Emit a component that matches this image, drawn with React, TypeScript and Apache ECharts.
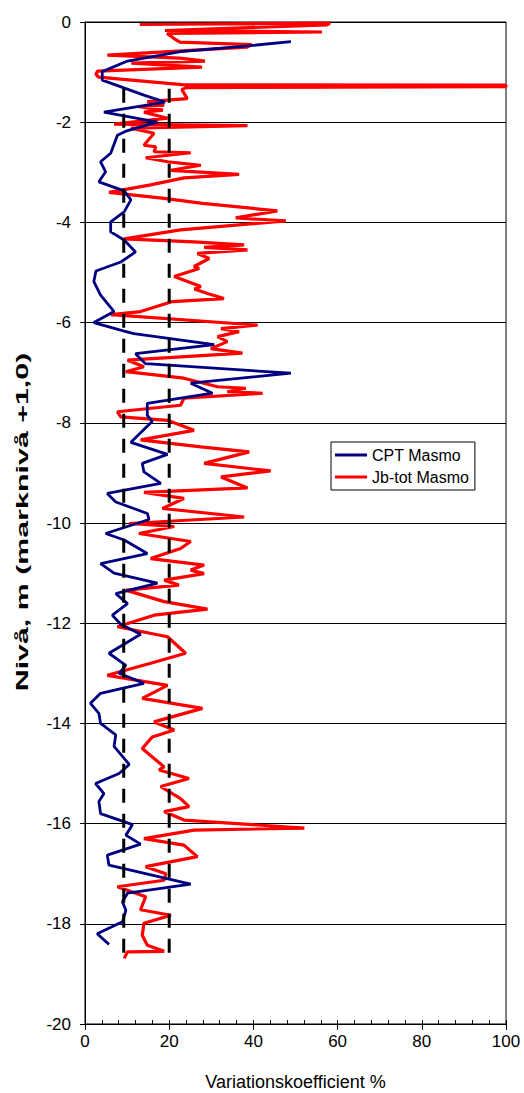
import React, { useEffect, useRef } from "react";
import * as echarts from "echarts";

// [variationskoefficient %, nivå m]
const cptMasmo: [number, number][] = [
  [48.9, -0.39], [39.4, -0.47], [22.7, -0.59], [10.1, -0.78], [4.1, -0.99], [4.1, -1.16],
  [14.0, -1.46], [19.0, -1.6], [4.5, -1.8], [17.2, -2.0], [9.7, -2.18], [7.7, -2.26],
  [6.1, -2.62], [3.7, -2.79], [4.9, -2.99], [3.3, -3.19], [9.3, -3.37], [10.9, -3.55],
  [9.3, -3.79], [6.1, -3.99], [6.1, -4.19], [9.3, -4.35], [12.0, -4.59], [8.5, -4.79],
  [2.6, -4.97], [2.1, -5.18], [3.7, -5.45], [6.9, -5.78], [2.1, -6.0], [9.3, -6.17],
  [11.6, -6.22], [30.7, -6.44], [12.0, -6.62], [14.4, -6.82], [48.9, -7.01], [25.1, -7.21],
  [30.3, -7.41], [14.8, -7.61], [14.8, -7.85], [16.0, -7.97], [10.9, -8.39], [19.6, -8.63],
  [13.6, -8.81], [14.0, -8.98], [18.0, -9.21], [5.3, -9.41], [7.3, -9.58], [9.3, -9.64],
  [14.8, -9.81], [15.2, -9.93], [4.9, -10.21], [9.3, -10.34], [14.8, -10.61], [3.7, -10.81],
  [6.9, -11.0], [17.2, -11.2], [7.3, -11.41], [10.1, -11.61], [6.5, -11.84], [8.5, -12.02],
  [13.2, -12.22], [5.7, -12.6], [9.7, -12.84], [8.1, -13.0], [14.0, -13.2], [3.7, -13.4],
  [1.3, -13.6], [3.3, -13.8], [3.7, -14.0], [7.3, -14.23], [6.9, -14.46], [9.3, -14.7],
  [10.5, -14.82], [8.1, -15.0], [2.5, -15.2], [4.5, -15.4], [3.3, -15.56], [3.7, -15.8],
  [11.3, -16.02], [9.7, -16.23], [13.2, -16.41], [5.3, -16.63], [5.7, -16.83], [25.1, -17.21],
  [10.1, -17.39], [8.9, -17.56], [9.7, -17.73], [8.9, -17.96], [2.9, -18.2], [5.7, -18.41],
];

const jbTotMasmo: [number, number][] = [
  [13.0, -0.05], [58.2, -0.02], [57.5, -0.06], [19.0, -0.17], [56.3, -0.2], [19.5, -0.23],
  [21.0, -0.32], [22.5, -0.4], [39.6, -0.45], [38.5, -0.5], [5.3, -0.66], [22.5, -0.72],
  [28.5, -0.78], [11.0, -0.82], [27.8, -0.9], [3.0, -0.98], [2.6, -1.04], [3.2, -1.1],
  [23.0, -1.25], [100, -1.26], [100, -1.29], [24.0, -1.31], [23.0, -1.35], [24.3, -1.53],
  [14.8, -1.59], [18.8, -1.66], [12.8, -1.69], [18.5, -1.76], [14.0, -1.8], [19.6, -1.92],
  [6.9, -2.04], [38.6, -2.07], [10.9, -2.12], [16.4, -2.22], [14.0, -2.46], [16.8, -2.49],
  [16.4, -2.59], [25.1, -2.61], [14.4, -2.71], [19.6, -2.79], [27.5, -2.86], [20.4, -2.96],
  [36.6, -3.04], [23.5, -3.11], [15.6, -3.25], [5.7, -3.4], [18.8, -3.52], [27.9, -3.62],
  [45.7, -3.77], [35.8, -3.91], [47.7, -3.97], [22.7, -4.15], [9.3, -4.33], [25.9, -4.39],
  [37.8, -4.45], [28.3, -4.5], [38.6, -4.55], [26.7, -4.62], [29.5, -4.72], [25.9, -4.88],
  [27.1, -4.92], [21.2, -5.08], [27.5, -5.28], [26.0, -5.33], [29.1, -5.42], [33.0, -5.52],
  [20.8, -5.58], [13.2, -5.78], [6.1, -5.84], [41.0, -6.05], [32.3, -6.12], [36.6, -6.18],
  [31.5, -6.28], [33.8, -6.38], [29.9, -6.52], [37.4, -6.61], [10.1, -6.75], [14.0, -6.88],
  [9.7, -6.98], [23.5, -7.11], [31.5, -7.28], [38.2, -7.31], [33.8, -7.38], [42.2, -7.41],
  [23.5, -7.51], [22.7, -7.65], [7.7, -7.78], [8.5, -7.88], [19.6, -7.95], [25.9, -8.15],
  [13.2, -8.34], [27.5, -8.48], [39.0, -8.58], [28.3, -8.81], [44.1, -8.96], [32.3, -9.08],
  [38.6, -9.3], [14.0, -9.39], [23.5, -9.51], [18.4, -9.71], [37.8, -9.88], [10.5, -10.01],
  [21.2, -10.07], [12.8, -10.21], [25.1, -10.37], [22.7, -10.51], [15.6, -10.71], [28.3, -10.84],
  [25.1, -10.94], [28.3, -11.01], [18.8, -11.14], [22.3, -11.24], [9.7, -11.34], [18.8, -11.57],
  [29.1, -11.72], [16.4, -11.84], [7.7, -12.07], [19.6, -12.27], [23.9, -12.6], [15.6, -12.8],
  [5.3, -13.04], [19.6, -13.24], [13.6, -13.5], [27.9, -13.7], [16.4, -13.97], [21.2, -14.13],
  [16.0, -14.27], [13.6, -14.5], [18.8, -14.87], [17.6, -14.93], [24.7, -15.1], [18.0, -15.26],
  [22.7, -15.5], [24.7, -15.66], [18.8, -15.76], [23.5, -15.93], [52.1, -16.09], [25.9, -16.13],
  [14.0, -16.3], [23.5, -16.43], [26.7, -16.66], [14.4, -16.86], [19.2, -17.0], [18.8, -17.13],
  [7.7, -17.26], [14.4, -17.46], [13.2, -17.72], [20.4, -17.83], [14.0, -17.99], [13.6, -18.23],
  [14.8, -18.43], [18.8, -18.55], [10.1, -18.56], [9.3, -18.69],
];

// Dashed reference limits (variationskoefficient %) and their vertical extent (m)
const limitValues = [9.2, 20];
const limitTop = -1.33;
const limitBottom = -18.68;

const xRange = { min: 0, max: 100, major: 20, minor: 4 };
const yRange = { min: -20, max: 0, step: 2 };

const seriesNames = ["CPT Masmo", "Jb-tot Masmo"];
const xTitle = "Variationskoefficient %";
const yTitle = "Nivå, m (marknivå +1,0)";

const FONT = "'Liberation Sans', Arial, sans-serif";

export default function App() {
  const ref = useRef<HTMLDivElement>(null);

  useEffect(() => {
    if (!ref.current) return;
    const chart = echarts.init(ref.current, null, { renderer: "svg" });

    const limitSeries = limitValues.map((v) => ({
      type: "line",
      data: [
        [v, limitTop],
        [v, limitBottom],
      ],
      symbol: "none",
      silent: true,
      z: 5,
      lineStyle: { color: "#000", width: 3, type: [14, 11] },
    }));

    chart.setOption({
      animation: false,
      backgroundColor: "#fff",
      grid: {
        left: 85,
        right: 18,
        top: 22,
        bottom: 69,
        outerBoundsMode: "none",
        containLabel: false,
        show: true,
        borderColor: "#000",
        borderWidth: 1,
      },
      legend: {
        data: seriesNames,
        orient: "vertical",
        left: 331,
        top: 442,
        icon: "rect",
        itemWidth: 32,
        itemHeight: 3,
        itemGap: 6,
        padding: [5, 6, 5, 4],
        borderColor: "#000",
        borderWidth: 1,
        backgroundColor: "#fff",
        textStyle: { fontSize: 16, color: "#000", fontFamily: FONT },
      },
      xAxis: [
        {
          type: "value",
          position: "bottom",
          min: xRange.min,
          max: xRange.max,
          interval: xRange.major,
          name: xTitle,
          nameLocation: "middle",
          nameGap: 49,
          nameTextStyle: { fontSize: 18, color: "#000", fontFamily: FONT },
          axisLine: { show: true, onZero: false, lineStyle: { color: "#000", width: 1 } },
          axisTick: { show: true, length: 6, lineStyle: { color: "#000" } },
          axisLabel: { fontSize: 17, color: "#000", margin: 9, fontFamily: FONT },
          splitLine: { show: false },
        },
        {
          type: "value",
          position: "bottom",
          min: xRange.min,
          max: xRange.max,
          interval: xRange.minor,
          axisLine: { show: false, onZero: false },
          axisTick: { show: true, inside: true, length: 4, lineStyle: { color: "#000" } },
          axisLabel: { show: false },
          splitLine: { show: false },
        },
      ],
      yAxis: {
        type: "value",
        min: yRange.min,
        max: yRange.max,
        interval: yRange.step,
        axisLine: { show: true, onZero: false, lineStyle: { color: "#000", width: 1 } },
        axisTick: { show: true, length: 5, lineStyle: { color: "#000" } },
        axisLabel: { fontSize: 17, color: "#000", margin: 14, fontFamily: FONT },
        splitLine: { show: true, lineStyle: { color: "#000", width: 1 } },
      },
      graphic: [
        {
          type: "text",
          x: 22,
          y: 522,
          rotation: Math.PI / 2,
          scaleX: 1.9,
          style: {
            text: yTitle,
            fontSize: 16,
            fontWeight: "bold",
            fontFamily: FONT,
            fill: "#000",
            align: "center",
            verticalAlign: "middle",
          },
        },
      ],
      series: [
        {
          name: seriesNames[1],
          type: "line",
          data: jbTotMasmo,
          symbol: "none",
          z: 3,
          itemStyle: { color: "#ff0000" },
          lineStyle: { color: "#ff0000", width: 3.2 },
        },
        {
          name: seriesNames[0],
          type: "line",
          data: cptMasmo,
          symbol: "none",
          z: 4,
          itemStyle: { color: "#000080" },
          lineStyle: { color: "#000080", width: 2.8 },
        },
        ...limitSeries,
      ],
    });

    return () => chart.dispose();
  }, []);

  return (
    <div
      ref={ref}
      style={{ position: "fixed", left: 0, top: 0, width: 524, height: 1093, background: "#fff" }}
    />
  );
}
